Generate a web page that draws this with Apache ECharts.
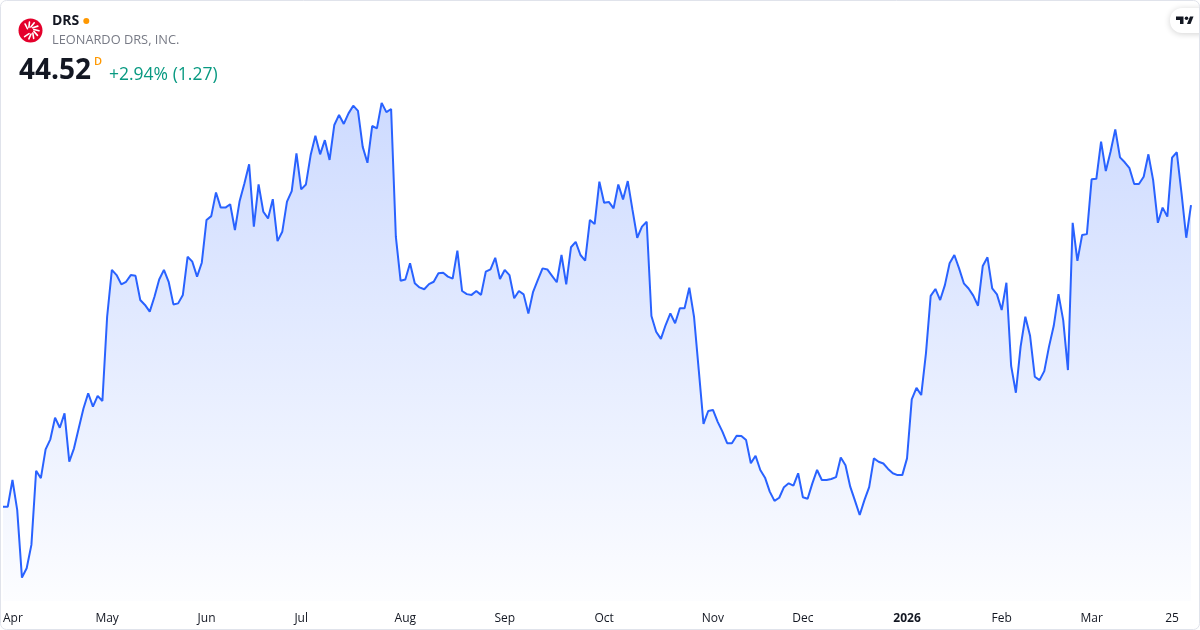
<!DOCTYPE html>
<html>
<head>
<meta charset="utf-8">
<title>DRS</title>
<script src="https://cdn.jsdelivr.net/npm/echarts@6/dist/echarts.min.js"></script>
<style>
  html, body { margin: 0; padding: 0; background: #fff; }
  #chart { width: 1200px; height: 630px; }
</style>
</head>
<body>
<div id="chart"></div>
<script>
  // daily closes, 2025-03-31 .. 2026-03-31
  var prices = [
    32.80, 32.80, 33.84, 32.68, 30.05, 30.41, 31.32, 34.20, 33.91, 35.03,
    35.42, 36.26, 35.87, 36.43, 34.55, 35.07, 35.85, 36.62, 37.21, 36.69,
    37.11, 36.91, 40.18, 42.00, 41.80, 41.44, 41.54, 41.80, 41.77, 40.83,
    40.64, 40.38, 40.96, 41.63, 42.00, 41.54, 40.66, 40.70, 41.03, 42.51,
    42.32, 41.74, 42.28, 43.94, 44.09, 45.01, 44.42, 44.42, 44.55, 43.55,
    44.68, 45.36, 46.10, 43.68, 45.32, 44.26, 44.00, 44.75, 43.12, 43.48,
    44.65, 45.06, 46.53, 45.13, 45.32, 46.46, 47.21, 46.49, 47.04, 46.27,
    47.63, 48.02, 47.67, 48.08, 48.38, 48.18, 46.78, 46.16, 47.59, 47.50,
    48.49, 48.13, 48.25, 43.29, 41.58, 41.63, 42.26, 41.48, 41.32, 41.25,
    41.45, 41.54, 41.87, 41.89, 41.74, 41.66, 42.75, 41.18, 41.06, 41.03,
    41.18, 41.03, 41.93, 42.02, 42.47, 41.65, 42.00, 41.80, 40.90, 41.18,
    41.05, 40.31, 41.15, 41.61, 42.06, 42.02, 41.77, 41.52, 42.58, 41.44,
    42.88, 43.09, 42.58, 42.36, 43.94, 43.78, 45.43, 44.61, 44.64, 44.39,
    45.32, 44.74, 45.45, 44.33, 43.25, 43.68, 43.87, 40.21, 39.60, 39.32,
    39.86, 40.31, 39.93, 40.51, 40.51, 41.31, 40.18, 38.11, 36.02, 36.52,
    36.56, 36.10, 35.72, 35.27, 35.27, 35.56, 35.55, 35.39, 34.49, 34.78,
    34.23, 33.93, 33.39, 33.03, 33.15, 33.56, 33.71, 33.62, 34.10, 33.17,
    33.11, 33.71, 34.23, 33.84, 33.84, 33.88, 33.95, 34.71, 34.41, 33.58,
    33.04, 32.48, 33.06, 33.56, 34.68, 34.55, 34.48, 34.27, 34.10, 34.03,
    34.03, 34.68, 36.97, 37.42, 37.14, 38.76, 40.99, 41.26, 40.83, 41.41,
    42.26, 42.58, 42.06, 41.48, 41.28, 41.00, 40.61, 42.15, 42.49, 41.28,
    41.05, 40.44, 41.50, 38.27, 37.23, 39.02, 40.18, 39.44, 37.85, 37.72,
    38.07, 39.02, 39.83, 41.06, 40.05, 38.11, 43.83, 42.35, 43.36, 43.39,
    45.52, 45.54, 46.98, 45.84, 46.59, 47.46, 46.37, 46.18, 45.95, 45.34,
    45.34, 45.62, 46.49, 45.49, 43.83, 44.42, 44.07, 46.36, 46.57, 44.97,
    43.25, 44.52
  ];

  // time axis labels and the bar index they sit on
  var tickIndex = [0, 22, 43, 63, 85, 106, 127, 150, 169, 191, 211, 230, 247];
  var tickText = ['Apr', 'May', 'Jun', 'Jul', 'Aug', 'Sep', 'Oct', 'Nov', 'Dec', '2026', 'Feb', 'Mar', '25'];

  // NYSE closed days in the range
  var holidays = ['2025-04-18', '2025-05-26', '2025-06-19', '2025-07-04', '2025-09-01',
    '2025-11-27', '2025-12-25', '2026-01-01', '2026-01-19', '2026-02-16'];

  var symbol = 'DRS';
  var company = 'LEONARDO DRS, INC.';
  var lastPrice = '44.52';
  var change = '+2.94% (1.27)';

  function tradingDays(from, n) {
    var out = [], d = new Date(from + 'T00:00:00Z');
    while (out.length < n) {
      var s = d.toISOString().slice(0, 10), wd = d.getUTCDay();
      if (wd !== 0 && wd !== 6 && holidays.indexOf(s) < 0) out.push(s);
      d.setUTCDate(d.getUTCDate() + 1);
    }
    return out;
  }
  var dates = tradingDays('2025-03-31', prices.length);

  var FONT = '"Open Sans", "Noto Sans", sans-serif';

  // leonardo logo: white dashes round the red disc
  var logoDashes = [];
  for (var k = 0; k < 9; k++) {
    var a = (-150 + k * 33) * Math.PI / 180;
    logoDashes.push({
      type: 'line',
      shape: { x1: 30.5 + Math.cos(a) * 3.5, y1: 30.5 + Math.sin(a) * 3.5, x2: 30.5 + Math.cos(a + 0.35) * 8.5, y2: 30.5 + Math.sin(a + 0.35) * 8.5 },
      style: { stroke: '#fff', lineWidth: 1.6, lineCap: 'round' }
    });
  }

  var chart = echarts.init(document.getElementById('chart'));
  chart.setOption({
    animation: false,
    backgroundColor: '#fff',
    grid: { left: 3, right: 9, top: 100, bottom: 29, outerBoundsMode: 'none' },
    xAxis: {
      type: 'category',
      data: dates,
      boundaryGap: false,
      axisLine: { show: false },
      axisTick: { show: false },
      splitLine: { show: false },
      axisLabel: {
        interval: function (i) { return tickIndex.indexOf(i) >= 0; },
        formatter: function (v, i) {
          var t = tickText[tickIndex.indexOf(i)];
          return /^\d{4}$/.test(t) ? '{y|' + t + '}' : t;
        },
        alignMinLabel: 'left',
        color: '#131722',
        fontSize: 12,
        fontFamily: FONT,
        margin: 12,
        rich: { y: { fontWeight: 'bold', fontSize: 12, color: '#131722', fontFamily: FONT } }
      }
    },
    yAxis: { type: 'value', min: 29.14, max: 48.60, show: false },
    series: [{
      type: 'line',
      data: prices,
      showSymbol: false,
      lineStyle: { color: '#2962FF', width: 2 },
      areaStyle: {
        color: new echarts.graphic.LinearGradient(0, 0, 0, 1, [
          { offset: 0, color: 'rgba(41,98,255,0.33)' },
          { offset: 1, color: 'rgba(41,98,255,0.02)' }
        ])
      }
    }],
    graphic: [
      { type: 'rect', z: 100, shape: { x: 0.5, y: 0.5, width: 1199, height: 629, r: 6 }, style: { fill: 'none', stroke: '#E0E3EB', lineWidth: 1 } },
      { type: 'circle', shape: { cx: 30.5, cy: 30.5, r: 12 }, style: { fill: '#E4002B' } },
      { type: 'group', children: logoDashes },
      { type: 'text', x: 52, y: 21.5, style: { text: symbol, font: 'bold 14px ' + FONT, fill: '#131722', verticalAlign: 'middle' } },
      { type: 'circle', shape: { cx: 86.3, cy: 21, r: 3 }, style: { fill: '#FF9800' } },
      { type: 'text', x: 52, y: 40.8, style: { text: company, font: '12.8px ' + FONT, fill: '#787B86', verticalAlign: 'middle' } },
      { type: 'text', x: 19, y: 71.5, style: { text: lastPrice, font: 'bold 28px ' + FONT, fill: '#131722', verticalAlign: 'middle' } },
      { type: 'text', x: 94, y: 62, style: { text: 'D', font: '600 11px ' + FONT, fill: '#FF9800', verticalAlign: 'middle' } },
      { type: 'text', x: 109, y: 75.3, style: { text: change, font: '17.5px ' + FONT, fill: '#089981', verticalAlign: 'middle' } },
      // tradingview badge
      { type: 'rect', z: 50, shape: { x: 1170, y: 8, width: 44, height: 25, r: 12 }, style: { fill: '#fff', shadowBlur: 6, shadowColor: 'rgba(0,0,0,0.18)', shadowOffsetY: 1 } },
      { type: 'polygon', z: 51, shape: { points: [[1176, 16.5], [1183.5, 16.5], [1183.5, 24], [1180, 24], [1180, 20], [1176, 20]] }, style: { fill: '#131722' } },
      { type: 'circle', z: 51, shape: { cx: 1186.5, cy: 18.3, r: 1.8 }, style: { fill: '#131722' } },
      { type: 'polygon', z: 51, shape: { points: [[1190, 16.5], [1193.5, 16.5], [1190.5, 24], [1187, 24]] }, style: { fill: '#131722' } }
    ]
  });
</script>
</body>
</html>
